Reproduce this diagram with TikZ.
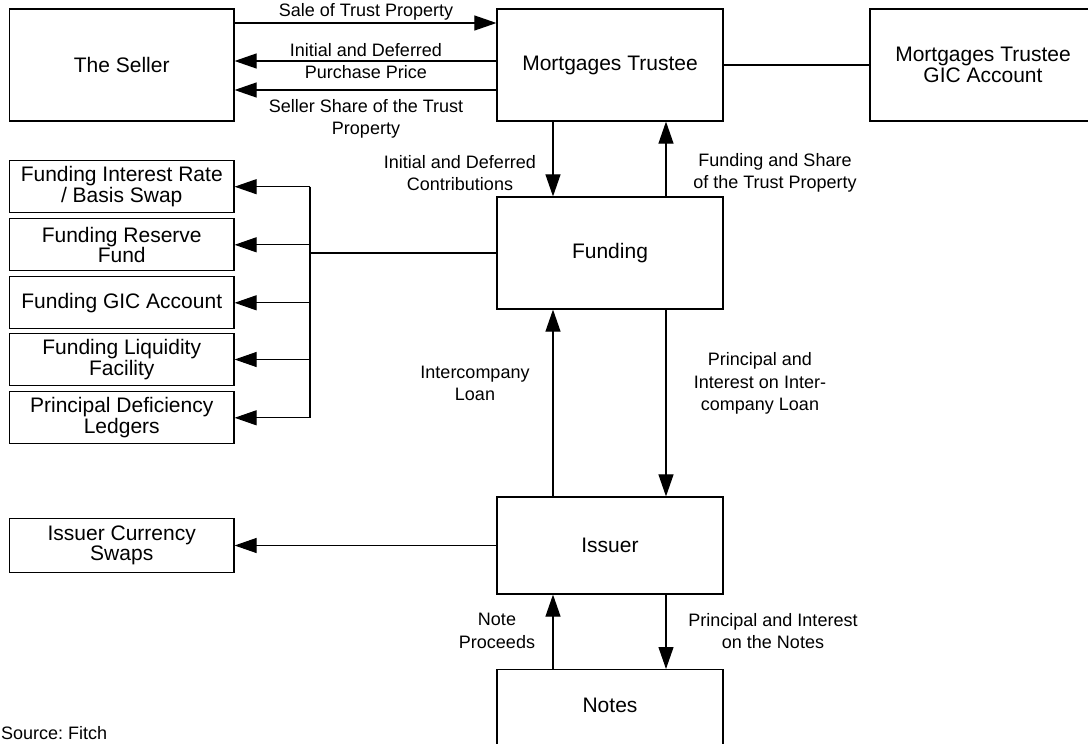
\documentclass[tikz,border=0pt]{standalone}
\usepackage{fontspec}
\setmainfont{Liberation Sans}
\usetikzlibrary{arrows.meta}
\frenchspacing
\newcommand\boxfont{\fontsize{21}{20.5}\selectfont}
\newcommand\lblfont{\fontsize{18}{22.5}\selectfont}
\begin{document}
\begin{tikzpicture}[x=1pt,y=-1pt,
  box/.style={draw, line width=1.2pt, fill=white, font=\boxfont, align=center, inner sep=0pt},
  lbl/.style={font=\lblfont, align=center, inner sep=0pt},
  arr/.style={line width=1.1pt, -{Triangle[length=22pt,width=15pt]}},
  ln/.style={line width=1.1pt}]
\useasboundingbox (0,0) rectangle (1088,744);
\clip (0,0) rectangle (1088,744);
% top row
\node[box, minimum width=224.5pt, minimum height=112pt] (seller) at (121.75,65) {The Seller};
\node[box, minimum width=226pt, minimum height=112pt] (mt) at (610,65) {Mortgages Trustee};
\node[box, minimum width=226pt, minimum height=112pt] (mtgic) at (983,65) {Mortgages Trustee\\GIC Account};
% funding
\node[box, minimum width=226pt, minimum height=112pt] (funding) at (610,253) {Funding};
% left boxes
\node[box, minimum width=224.5pt, minimum height=52pt] (fir) at (121.75,186.7) {Funding Interest Rate\\/ Basis Swap};
\node[box, minimum width=224.5pt, minimum height=52pt] (res) at (121.75,244.8) {Funding Reserve\\Fund};
\node[box, minimum width=224.5pt, minimum height=52pt] (gic) at (121.75,302.8) {Funding GIC Account};
\node[box, minimum width=224.5pt, minimum height=52pt] (liq) at (121.75,359.5) {Funding Liquidity\\Facility};
\node[box, minimum width=224.5pt, minimum height=52pt] (pdl) at (121.75,417.8) {Principal Deficiency\\Ledgers};
% issuer
\node[box, minimum width=226pt, minimum height=97pt] (issuer) at (610,545.5) {Issuer};
\node[box, minimum width=224.5pt, minimum height=54pt] (ics) at (121.75,545.5) {Issuer Currency\\Swaps};
% notes
\node[box, minimum width=226pt, minimum height=110pt, anchor=north] (notes) at (610,669) {};
\node[font=\boxfont, inner sep=0pt] (notestxt) at (610,705) {Notes};
% seller - mt
\draw[arr] (seller.east |- 0,23) -- (mt.west |- 0,23);
\draw[arr] (mt.west |- 0,61) -- (seller.east |- 0,61);
\draw[arr] (mt.west |- 0,90) -- (seller.east |- 0,90);
\draw[ln] (mt.east) -- (mtgic.west);
% mt - funding
\draw[arr] (mt.south -| 553,0) -- (funding.north -| 553,0);
\draw[arr] (funding.north -| 666,0) -- (mt.south -| 666,0);
% funding - bus
\coordinate (bus) at (310,253);
\draw[ln] (funding.west) -- (bus);
\draw[ln] (bus |- fir.east) -- (bus |- pdl.east);
\foreach \n in {fir,res,gic,liq,pdl}{
  \draw[arr] (bus |- \n.east) -- (\n.east);
}
% funding - issuer
\draw[arr] (issuer.north -| 553,0) -- (funding.south -| 553,0);
\draw[arr] (funding.south -| 666,0) -- (issuer.north -| 666,0);
\draw[arr] (issuer.west) -- (ics.east);
% issuer - notes
\draw[arr] (notes.north -| 553,0) -- (issuer.south -| 553,0);
\draw[arr] (issuer.south -| 666,0) -- (notes.north -| 666,0);
% labels
\node[lbl] (l1) at (366,12) {Sale of Trust Property};
\node[lbl] (l2) at (366,61) {Initial and Deferred\\Purchase Price};
\node[lbl] (l3) at (366,119) {Seller Share of the Trust\\Property};
\node[lbl] (l4) at (460,173) {Initial and Deferred\\Contributions};
\node[lbl] (l5) at (775,173) {Funding and Share\\of the Trust Property};
\node[lbl] (l6) at (475,383.5) {Intercompany\\Loan};
\node[lbl] (l7) at (760,383.5) {Principal and\\Interest on Inter-\\company Loan};
\node[lbl] (l8) at (497,631) {Note\\Proceeds};
\node[lbl] (l9) at (773,631) {Principal and Interest\\on the Notes};
\node[lbl, anchor=west] (src) at (1,733) {Source: Fitch};
\end{tikzpicture}
\end{document}
